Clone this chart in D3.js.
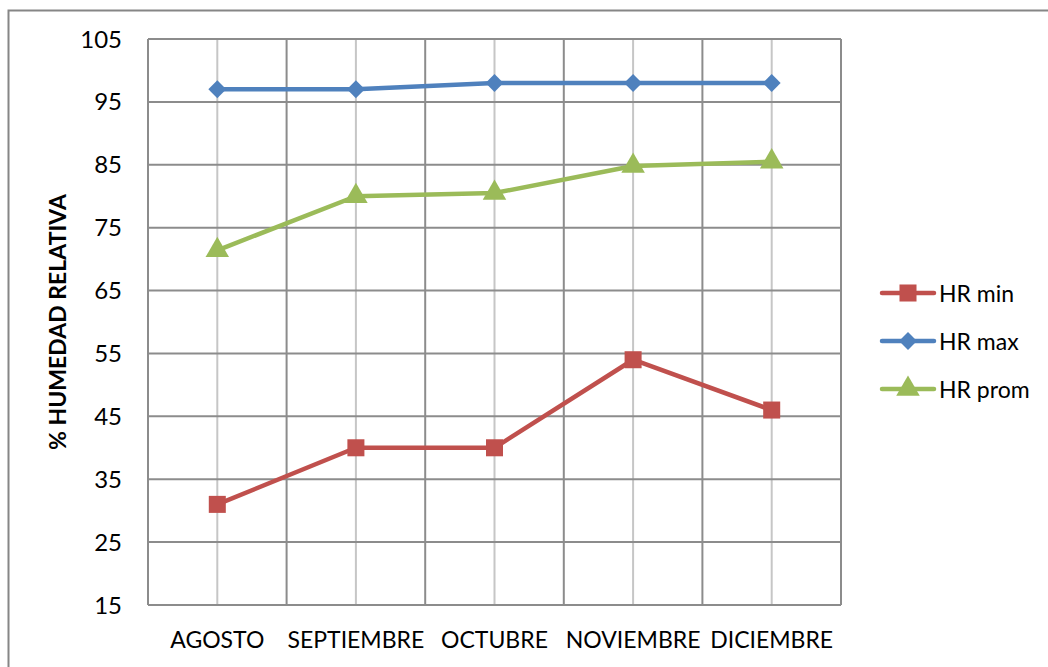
<!DOCTYPE html>
<html>
<head>
<meta charset="utf-8">
<script src="https://cdn.jsdelivr.net/npm/d3@7"></script>
<style>
  body { margin: 0; background: #fff; }
  svg text { font-family: Lato, "Open Sans", sans-serif; fill: #000; }
</style>
</head>
<body>
<svg id="chart" width="1048" height="667"></svg>
<script>
const months = ["AGOSTO", "SEPTIEMBRE", "OCTUBRE", "NOVIEMBRE", "DICIEMBRE"];
const hr_min = [31, 40, 40, 54, 46];
const hr_max = [97, 97, 98, 98, 98];
const hr_prom = [71.4, 80, 80.5, 84.8, 85.5];
const y_ticks = [15, 25, 35, 45, 55, 65, 75, 85, 95, 105];

// diamond drawn as a square turned 45 degrees, like the office one
const wideDiamond = {
    draw(ctx, size) {
        const r = Math.sqrt(size / 2);
        ctx.moveTo(0, -r);
        ctx.lineTo(r, 0);
        ctx.lineTo(0, r);
        ctx.lineTo(-r, 0);
        ctx.closePath();
    }
};

const series = [
    { name: "HR min", values: hr_min, color: "#c0504d", marker: d3.symbolSquare, size: 290 },
    { name: "HR max", values: hr_max, color: "#4f81bd", marker: wideDiamond, size: 160 },
    { name: "HR prom", values: hr_prom, color: "#9bbb59", marker: d3.symbolTriangle, size: 240 }
];

const svg = d3.select('#chart');
const plot = { left: 148, top: 39, right: 841, bottom: 605 };

// outer frame
svg.append('rect')
    .attr('x', 8.5).attr('y', 10.5)
    .attr('width', 1100).attr('height', 700)
    .style('fill', 'none').style('stroke', '#868686').style('stroke-width', 2);

const x_band = d3.scaleBand().domain(months).range([plot.left, plot.right]);
const x = d => x_band(d) + x_band.bandwidth() / 2;
const y = d3.scaleLinear().domain([15, 105]).range([plot.bottom, plot.top]);

const grid = svg.append('g');

// lighter lines at the month centres
grid.selectAll('.vc').data(months).enter().append('line')
    .attr('x1', d => x(d)).attr('x2', d => x(d))
    .attr('y1', plot.top).attr('y2', plot.bottom)
    .style('stroke', '#c6c6c6').style('stroke-width', 2);

// darker lines at the band edges
const edges = months.map(m => x_band(m)).concat([plot.right]);
grid.selectAll('.ve').data(edges).enter().append('line')
    .attr('x1', d => d).attr('x2', d => d)
    .attr('y1', plot.top).attr('y2', plot.bottom)
    .style('stroke', '#8c8c8c').style('stroke-width', 2);

grid.selectAll('.h').data(y_ticks).enter().append('line')
    .attr('x1', plot.left).attr('x2', plot.right)
    .attr('y1', d => y(d)).attr('y2', d => y(d))
    .style('stroke', '#8c8c8c').style('stroke-width', 2);

// y tick labels
svg.selectAll('.yt').data(y_ticks).enter().append('text')
    .attr('x', 122).attr('y', d => y(d) + 8.5)
    .attr('text-anchor', 'end')
    .style('font-size', '24px')
    .text(d => d);

// x labels
svg.selectAll('.xt').data(months).enter().append('text')
    .attr('x', d => x(d)).attr('y', 648)
    .attr('text-anchor', 'middle')
    .style('font-size', '23px')
    .text(d => d);

svg.append('text')
    .attr('transform', 'translate(66,' + ((plot.top + plot.bottom) / 2) + ') rotate(-90)')
    .attr('text-anchor', 'middle')
    .style('font-size', '23px').style('font-weight', 'bold')
    .text('% HUMEDAD RELATIVA');

const line = d3.line().x((d, i) => x(months[i])).y(d => y(d));

// draw max first, then prom, then min on top
[series[1], series[2], series[0]].forEach(s => {
    svg.append('path')
        .attr('d', line(s.values))
        .style('fill', 'none').style('stroke', s.color)
        .style('stroke-width', 4.5).style('stroke-linejoin', 'round');
    svg.selectAll(null).data(s.values).enter().append('path')
        .attr('d', d3.symbol().type(s.marker).size(s.size))
        .attr('transform', (d, i) => 'translate(' + x(months[i]) + ',' + y(d) + ')')
        .style('fill', s.color);
});

// legend
const legend = svg.append('g');
series.forEach((s, i) => {
    const ly = 293 + i * 48;
    legend.append('line')
        .attr('x1', 882).attr('x2', 934).attr('y1', ly).attr('y2', ly)
        .style('stroke', s.color).style('stroke-width', 4.5).style('stroke-linecap', 'round');
    legend.append('path')
        .attr('d', d3.symbol().type(s.marker).size(s.size))
        .attr('transform', 'translate(908,' + ly + ')')
        .style('fill', s.color);
    legend.append('text')
        .attr('x', 939).attr('y', ly + 8.5)
        .style('font-size', '23px')
        .text(s.name);
});
</script>
</body>
</html>
